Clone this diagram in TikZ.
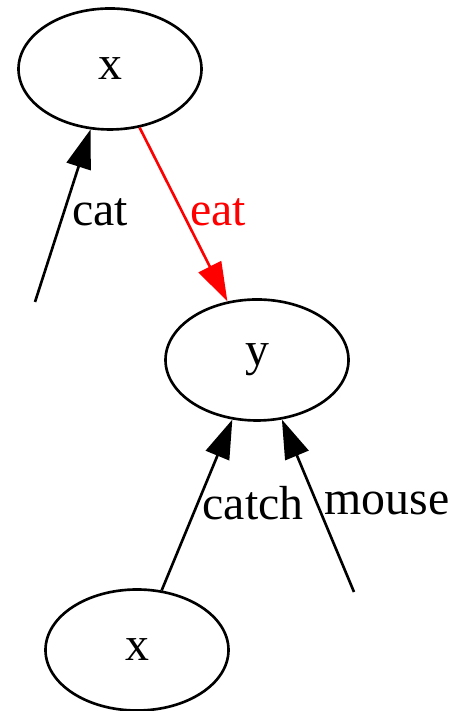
\documentclass[tikz,border=0pt]{standalone}
\usepackage{fontspec}
\setmainfont{Liberation Serif}
\usetikzlibrary{shapes.geometric, arrows.meta}

\begin{document}
\begin{tikzpicture}[
    word/.style={ellipse, draw, line width=0.75pt, minimum width=1.83cm, minimum height=1.21cm, inner sep=0pt},
    link/.style={-{Triangle[length=3.9mm, width=2.5mm]}, line width=0.75pt},
    every node/.style={font=\fontsize{13.6}{16}\selectfont}
]
    \useasboundingbox (0,0) rectangle (4.58,7.11);

    % Draw the word nodes
    \node[word] (x1) at (1.10,6.42) {x};
    \node[word] (y) at (2.57,3.51) {y};
    \node[word] (x2) at (1.37,0.61) {x};

    % Free ends of the open edges
    \coordinate (catend) at (0.35,4.09);
    \coordinate (mouseend) at (3.54,1.19);

    % Draw the edges
    \draw[link] (catend) -- (x1);
    \draw[link, red] (x1) -- (y);
    \draw[link] (x2) -- (y);
    \draw[link] (mouseend) -- (y);

    % Draw the edge labels
    \node (cat) at (1.00,4.99) {cat};
    \node[red] (eat) at (2.18,4.99) {eat};
    \node (catch) at (2.53,2.08) {catch};
    \node (mouse) at (3.87,2.08) {mouse};
\end{tikzpicture}
\end{document}
